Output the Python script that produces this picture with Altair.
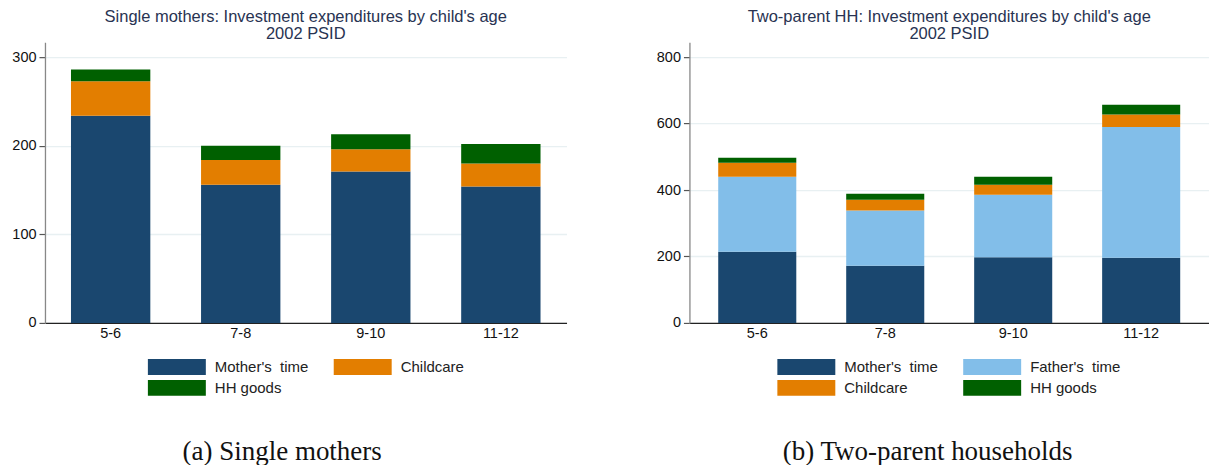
import altair as alt
import pandas as pd

ages = ["5-6", "7-8", "9-10", "11-12"]

MOTHER = "Mother's\u00a0 time"
FATHER = "Father's\u00a0 time"
CHILDCARE = "Childcare"
GOODS = "HH goods"

# Single mothers (left panel)
single_mother_time = [234, 156, 171, 154]
single_childcare = [39, 28, 25, 26]
single_goods = [13, 16, 17, 22]

# Two-parent households (right panel)
two_mother_time = [214, 172, 198, 196]
two_father_time = [226, 166, 188, 394]
two_childcare = [42, 33, 30, 37]
two_goods = [15, 18, 24, 30]

single_components = [MOTHER, CHILDCARE, GOODS]
two_components = [MOTHER, FATHER, CHILDCARE, GOODS]
single_colors = ["#1a476f", "#e37e00", "#006000"]
two_colors = ["#1a476f", "#82bee9", "#e37e00", "#006000"]

single_ticks = [0, 100, 200, 300]
two_ticks = [0, 200, 400, 600, 800]


def long_frame(components, series):
    rows = []
    for rank, (comp, vals) in enumerate(zip(components, series)):
        for age, v in zip(ages, vals):
            rows.append({"age": age, "component": comp, "value": v, "rank": rank})
    return pd.DataFrame(rows)


single_df = long_frame(single_components, [single_mother_time, single_childcare, single_goods])
two_df = long_frame(two_components, [two_mother_time, two_father_time, two_childcare, two_goods])

FONT = "Liberation Sans"
# wide rectangle swatch (58 x 16 px when symbolSize = 256)
RECT = "M-3.625,-1H3.625V1H-3.625Z"


def panel(df, components, colors, title, ymax, ticks, legend_x, pad_outer, width):
    return alt.Chart(df, view=alt.ViewBackground(strokeWidth=0)).mark_bar().encode(
        x=alt.X(
            "age:N",
            sort=ages,
            scale=alt.Scale(paddingInner=0.39, paddingOuter=pad_outer),
            axis=alt.Axis(
                title=None, labelAngle=0, ticks=False, grid=False,
                labelFont=FONT, labelFontSize=14.5, labelColor="#111",
                labelPadding=4, domainColor="#222", domainWidth=1.3,
            ),
        ),
        y=alt.Y(
            "value:Q",
            stack="zero",
            scale=alt.Scale(domain=[0, ymax], nice=False),
            axis=alt.Axis(
                title=None, values=ticks, tickSize=6, tickColor="#555",
                tickWidth=1.2, labelFont=FONT, labelFontSize=14.5,
                labelColor="#111", labelPadding=3, domainColor="#888",
                domainWidth=1.3, grid=True, gridColor="#e8f0f2",
                gridWidth=1.3,
            ),
        ),
        color=alt.Color(
            "component:N",
            scale=alt.Scale(domain=components, range=colors),
            legend=alt.Legend(
                title=None, orient="none", legendX=legend_x, legendY=317,
                direction="horizontal", columns=2, symbolType=RECT,
                symbolSize=256, symbolStrokeWidth=0, symbolOpacity=1,
                labelFont=FONT, labelFontSize=15, labelColor="#222",
                labelOffset=30, columnPadding=25, rowPadding=5, padding=0,
            ),
        ),
        order=alt.Order("rank:Q", sort="ascending"),
    ).properties(
        width=width,
        height=281,
        title=alt.TitleParams(
            text=title, font=FONT, fontSize=16.5, fontWeight="normal",
            color="#283352", lineHeight=17, offset=0, anchor="middle",
        ),
    )


left = panel(
    single_df, single_components, single_colors,
    ["Single mothers: Investment expenditures by child's age", "2002 PSID"],
    317, single_ticks, 124, 0.2, 522,
)
right = panel(
    two_df, two_components, two_colors,
    ["Two-parent HH: Investment expenditures by child's age", "2002 PSID"],
    845, two_ticks, 109, 0.225, 520,
)


def caption(text, dx):
    return alt.TitleParams(
        text=text, orient="bottom", font="Liberation Serif", fontSize=27,
        fontWeight="normal", color="#111", offset=43, anchor="middle", dx=dx,
    )


left_v = alt.vconcat(left).properties(title=caption("(a) Single mothers", -7))
right_v = alt.vconcat(right).properties(title=caption("(b) Two-parent households", -5))

chart = (
    alt.hconcat(left_v, right_v, spacing=89)
    .resolve_scale(color="independent")
    .resolve_legend(color="independent")
    .properties(padding={"left": 3, "top": 0, "right": 0, "bottom": 0})
    .configure_view(stroke="transparent", strokeWidth=0)
    .configure(background="white")
)

chart.save("out.html", embed_options={"renderer": "svg", "actions": False})
